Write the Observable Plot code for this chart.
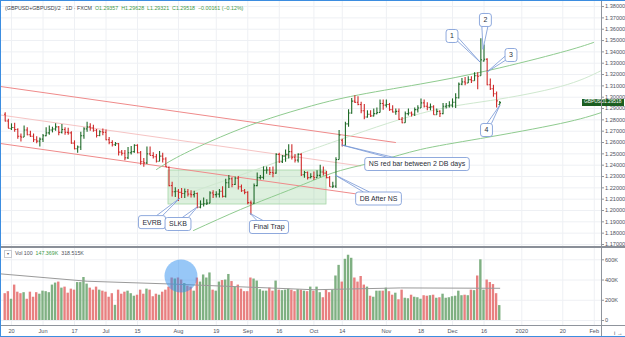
<!DOCTYPE html>
<html><head><meta charset="utf-8">
<script src="https://cdn.jsdelivr.net/npm/d3@7"></script>
<script src="https://cdn.jsdelivr.net/npm/@observablehq/plot@0.6"></script>
<style>
html,body{margin:0;padding:0;background:#fff;}
#wrap{position:relative;width:625px;height:337px;overflow:hidden;font-family:"Liberation Sans",Arial,sans-serif;}
#wrap svg{position:absolute;left:0;overflow:visible;}
.abs{position:absolute;white-space:nowrap;}
</style></head><body>
<div id="wrap"></div>
<script>
// ---------------- data ----------------
const startDate = "2019-05-16";
const opens = [1.2850,1.2790,1.2722,1.2732,1.2715,1.2655,1.2648,1.2710,1.2668,1.2655,1.2625,1.2612,
1.2630,1.2660,1.2685,1.2710,1.2720,1.2738,1.2690,1.2715,1.2690,1.2685,1.2595,1.2545,1.2560,1.2660,1.2720,1.2738,1.2728,1.2708,1.2662,1.2695,
1.2690,1.2625,1.2600,1.2580,1.2590,1.2515,1.2505,1.2465,1.2510,1.2520,1.2575,1.2510,1.2430,1.2420,1.2500,1.2485,1.2475,1.2435,1.2480,1.2455,1.2380,1.2220,1.2165,
1.2170,1.2160,1.2150,1.2165,1.2145,1.2140,1.2150,1.2030,1.2055,1.2060,1.2065,1.2155,1.2140,1.2145,1.2170,1.2125,1.2245,1.2280,1.2230,1.2285,1.2210,1.2175,
1.2160,1.2070,1.2065,1.2220,1.2290,1.2292,1.2355,1.2357,1.2335,1.2330,1.2495,1.2430,1.2480,1.2495,1.2520,1.2470,1.2445,1.2495,1.2315,1.2335,1.2290,
1.2300,1.2290,1.2310,1.2340,1.2330,1.2290,1.2210,1.2215,1.2450,1.2620,1.2575,1.2765,1.2860,1.2965,1.2955,1.2935,1.2880,1.2825,1.2850,1.2835,1.2855,1.2865,1.2945,
1.2930,1.2935,1.2890,1.2870,1.2875,1.2805,1.2775,1.2855,1.2860,1.2850,1.2890,1.2905,1.2950,1.2920,1.2910,1.2915,1.2845,1.2875,1.2855,1.2920,1.2925,
1.2930,1.2955,1.2995,1.3115,1.3135,1.3125,1.3155,1.3145,1.3190,1.3190,1.3320,1.3335,1.3110,1.3075,1.3030,1.29357];
const highs = [1.2862,1.2805,1.2765,1.2770,1.2722,1.2676,1.2745,1.2730,1.2700,1.2675,1.2650,1.2640,
1.2670,1.2730,1.2745,1.2735,1.2765,1.2742,1.2760,1.2730,1.2725,1.2695,1.2615,1.2570,1.2690,1.2730,1.2780,1.2765,1.2752,1.2715,1.2705,1.2720,
1.2710,1.2645,1.2615,1.2600,1.2592,1.2530,1.2530,1.2555,1.2565,1.2580,1.2580,1.2520,1.2460,1.2560,1.2560,1.2510,1.2495,1.2520,1.2505,1.2465,1.2385,1.2250,1.2200,
1.2185,1.2195,1.2190,1.2185,1.2175,1.2170,1.2155,1.2085,1.2110,1.2095,1.2165,1.2175,1.2165,1.2185,1.2210,1.2275,1.2310,1.2290,1.2295,1.2300,1.2225,1.2185,
1.2165,1.2085,1.2235,1.2330,1.2310,1.2385,1.2385,1.2380,1.2385,1.2500,1.2505,1.2485,1.2535,1.2580,1.2580,1.2495,1.2500,1.2500,1.2345,1.2340,1.2325,
1.2340,1.2350,1.2400,1.2385,1.2345,1.2300,1.2250,1.2465,1.2707,1.2630,1.2780,1.2890,1.2988,1.3013,1.3005,1.2955,1.2935,1.2880,1.2880,1.2895,1.2905,1.2975,1.2975,
1.2975,1.2945,1.2925,1.2895,1.2895,1.2820,1.2870,1.2895,1.2870,1.2905,1.2925,1.2985,1.2975,1.2950,1.2940,1.2925,1.2895,1.2880,1.2945,1.2945,1.2960,
1.2985,1.3030,1.3125,1.3165,1.3175,1.3180,1.3180,1.3215,1.3215,1.3515,1.3460,1.3340,1.3160,1.3105,1.3045,1.29628];
const lows = [1.2782,1.2722,1.2706,1.2690,1.2630,1.2605,1.2645,1.2660,1.2645,1.2600,1.2590,1.2560,
1.2600,1.2650,1.2665,1.2685,1.2700,1.2660,1.2675,1.2665,1.2665,1.2585,1.2535,1.2505,1.2530,1.2630,1.2690,1.2700,1.2690,1.2640,1.2650,1.2660,
1.2615,1.2580,1.2560,1.2565,1.2480,1.2480,1.2440,1.2450,1.2490,1.2505,1.2500,1.2400,1.2382,1.2405,1.2480,1.2455,1.2420,1.2430,1.2420,1.2380,1.2210,1.2120,1.2115,
1.2080,1.2105,1.2105,1.2120,1.2110,1.2110,1.2015,1.2015,1.2030,1.2045,1.2060,1.2105,1.2110,1.2110,1.2110,1.2110,1.2195,1.2200,1.2220,1.2180,1.2160,1.2140,
1.2050,1.1958,1.2055,1.2210,1.2270,1.2270,1.2320,1.2310,1.2290,1.2320,1.2415,1.2415,1.2425,1.2455,1.2445,1.2420,1.2420,1.2300,1.2285,1.2270,1.2280,
1.2265,1.2285,1.2290,1.2305,1.2280,1.2205,1.2195,1.2195,1.2445,1.2560,1.2565,1.2735,1.2850,1.2945,1.2925,1.2855,1.2800,1.2815,1.2820,1.2825,1.2845,1.2860,1.2885,
1.2905,1.2875,1.2860,1.2840,1.2795,1.2765,1.2770,1.2835,1.2825,1.2830,1.2860,1.2900,1.2905,1.2880,1.2880,1.2840,1.2840,1.2820,1.2845,1.2895,1.2905,
1.2905,1.2900,1.2985,1.3100,1.3100,1.3120,1.3120,1.3140,1.3065,1.3185,1.3310,1.3100,1.3060,1.3000,1.2905,1.29321];
const closes = [1.2790,1.2725,1.2732,1.2715,1.2655,1.2648,1.2710,1.2668,1.2655,1.2625,1.2612,1.2630,
1.2660,1.2685,1.2710,1.2720,1.2738,1.2690,1.2715,1.2690,1.2685,1.2595,1.2545,1.2560,1.2660,1.2720,1.2738,1.2728,1.2708,1.2662,1.2695,1.2690,
1.2625,1.2600,1.2580,1.2590,1.2515,1.2505,1.2465,1.2510,1.2520,1.2575,1.2510,1.2430,1.2420,1.2500,1.2485,1.2475,1.2435,1.2480,1.2455,1.2385,1.2220,1.2165,1.2170,
1.2160,1.2150,1.2165,1.2145,1.2140,1.2150,1.2030,1.2055,1.2060,1.2065,1.2155,1.2140,1.2145,1.2170,1.2125,1.2245,1.2280,1.2230,1.2285,1.2210,1.2175,1.2160,
1.2070,1.2065,1.2220,1.2290,1.2292,1.2355,1.2357,1.2335,1.2330,1.2495,1.2430,1.2480,1.2495,1.2520,1.2470,1.2445,1.2495,1.2315,1.2335,1.2290,1.2300,
1.2290,1.2310,1.2340,1.2330,1.2290,1.2210,1.2215,1.2450,1.2665,1.2575,1.2765,1.2860,1.2965,1.2955,1.2935,1.2880,1.2825,1.2850,1.2835,1.2855,1.2865,1.2945,1.2930,
1.2935,1.2890,1.2870,1.2875,1.2805,1.2775,1.2855,1.2860,1.2850,1.2890,1.2905,1.2950,1.2920,1.2910,1.2915,1.2845,1.2875,1.2855,1.2920,1.2925,1.2930,
1.2955,1.2995,1.3115,1.3135,1.3125,1.3155,1.3145,1.3190,1.3185,1.3330,1.3335,1.3110,1.3075,1.3030,1.29679,1.29518];
const volumes = [265,285,210,350,280,265,275,210,280,230,275,260,
290,285,275,350,370,380,320,330,270,310,300,375,375,425,360,320,300,330,300,290,
280,230,265,150,300,260,280,290,265,240,250,300,260,310,300,235,260,250,280,300,330,420,410,
420,400,365,340,330,290,420,380,450,420,470,300,290,380,395,400,455,385,330,350,310,285,
285,420,410,390,305,290,290,320,290,390,300,295,300,310,300,285,305,300,290,285,330,
290,330,275,225,300,275,300,440,545,380,605,645,615,420,380,435,350,330,240,230,290,290,290,
320,285,250,270,205,300,220,215,250,230,225,210,245,240,245,250,220,225,260,220,225,
235,240,290,245,250,245,300,295,440,600,300,400,375,355,265,147.369];
// volume moving-average readings (bar index, thousands)
const maIndex = [-1.5, 26, 51.4, 98, 125.5, 157];
const maValues = [461, 388, 362, 304, 322, 318.515];
// x-axis ticks
const tickDates = ["2019-05-20","2019-06-03","2019-06-17","2019-07-01","2019-07-15","2019-08-01","2019-08-19","2019-09-02","2019-09-16","2019-10-01","2019-10-14","2019-11-01","2019-11-18","2019-12-02","2019-12-16","2020-01-01","2020-01-20","2020-02-03"];
const tickLabels = ["20","Jun","17","Jul","15","Aug","19","Sep","16","Oct","14","Nov","18","Dec","16","2020","20","Feb"];
const priceTicks = d3.range(117, 139).map(v => v / 100);
const volTicks = [0, 200, 400, 600];
// drawings (bar index, price)
const redUpper = [{i:-1.492,p:1.30944},{i:123.9,p:1.26002}];
const redMid   = [{i:-1.492,p:1.28429},{i:112.8,p:1.23928}];
const redLower = [{i:-1.492,p:1.25913},{i:111.2,p:1.21474}];
const greenUpper = [{i:48.03,p:1.23619},{i:55.65,p:1.24854},{i:68.35,p:1.26487},{i:81.05,p:1.27855},{i:93.75,p:1.28959},{i:109.62,p:1.30062},{i:131.84,p:1.31165},{i:154.06,p:1.32401},{i:176.29,p:1.33945},{i:186.76,p:1.34828}];
const greenMid = [{i:58.83,p:1.21589},{i:78.83,p:1.23531},{i:93.75,p:1.25031},{i:105.49,p:1.26178},{i:131.84,p:1.28561},{i:154.06,p:1.29709},{i:176.29,p:1.30944},{i:189.3,p:1.32357}];
const greenLower = [{i:59.78,p:1.18235},{i:74.70,p:1.20088},{i:87.40,p:1.21500},{i:96.92,p:1.22560},{i:106.44,p:1.23530},{i:119.14,p:1.24413},{i:131.84,p:1.25384},{i:150.89,p:1.26355},{i:176.29,p:1.27679},{i:189.3,p:1.28650}];
const zone = [{i1:51.84,i2:102.0,p1:1.2053,p2:1.2353}];
const callouts = [
  {text:"EVRB", i:46.76, p:1.18932, ti:55.65, tp:1.21059},
  {text:"SLKB", i:55.02, p:1.18764, ti:61.2, tp:1.20291},
  {text:"Final Trap", i:83.9, p:1.18499, ti:77.87, tp:1.19709},
  {text:"DB After NS", i:118.67, p:1.21015, ti:104.86, tp:1.23089},
  {text:"NS red bar between 2 DB days", i:130.89, p:1.2406, ti:106.98, tp:1.25737},
  {text:"1", i:142.0, p:1.35357, ti:150.89, tp:1.33063},
  {text:"2", i:152.6, p:1.3677, ti:151.84, tp:1.34184},
  {text:"3", i:160.73, p:1.3368, ti:153.1, tp:1.3218},
  {text:"4", i:152.95, p:1.2706, ti:157.24, tp:1.29267}
];
const highlight = [{i:55.8, v:440}];

// ---------------- build ----------------
const UP = "#1f6a28", DN = "#cf2a2a", VUP = "#7fb082", VDN = "#e88080";
const GRID = "#eef0f4", AX = "#8f949c", TXT = "#50535e";
const bars = opens.map((o,k)=>({i:k, open:o, high:highs[k], low:lows[k], close:closes[k], vol:volumes[k], up: closes[k] >= o}));
function dayIndex(s){
  const a = new Date(startDate+"T00:00:00Z"), b = new Date(s+"T00:00:00Z");
  let n = 0;
  for (let d = new Date(a); d < b; d.setUTCDate(d.getUTCDate()+1)) { const w = d.getUTCDay(); if (w !== 0 && w !== 6) n++; }
  return n;
}
const tickIdx = tickDates.map(dayIndex);
const labelMap = new Map(tickIdx.map((t,k)=>[t, tickLabels[k]]));
const xScale = {type:"linear", domain:[-1.492, 189.3], range:[0, 601]};
const wrap = document.getElementById("wrap");

const pricePlot = Plot.plot({
  width: 625, height: 247, marginLeft: 0, marginRight: 24, marginTop: 0, marginBottom: 0,
  style: {background: "transparent", fontFamily: "Liberation Sans, Arial, sans-serif"},
  x: {...xScale, axis: null},
  y: {type: "linear", domain: [1.17, 1.38], range: [244.0, 6.06], axis: null},
  marks: [
    Plot.ruleY(priceTicks, {stroke: GRID, strokeWidth: 1}),
    Plot.ruleX(tickIdx, {stroke: GRID, strokeWidth: 1}),
    Plot.rect(zone, {x1:"i1", x2:"i2", y1:"p1", y2:"p2", fill:"#66bb6a", fillOpacity:0.22, stroke:"#a5d6a7", strokeWidth:0.8}),
    Plot.line(redMid, {x:"i", y:"p", stroke:"#f6c4c4", strokeWidth:1}),
    Plot.line(redUpper, {x:"i", y:"p", stroke:"#ef8a8a", strokeWidth:1}),
    Plot.line(redLower, {x:"i", y:"p", stroke:"#ef8a8a", strokeWidth:1}),
    Plot.line(greenMid, {x:"i", y:"p", stroke:"#cfe8cf", strokeWidth:1, curve:"natural"}),
    Plot.line(greenUpper, {x:"i", y:"p", stroke:"#8fcb8f", strokeWidth:1, curve:"natural"}),
    Plot.line(greenLower, {x:"i", y:"p", stroke:"#8fcb8f", strokeWidth:1, curve:"natural"}),
    Plot.ruleX(bars, {x:"i", y1:"low", y2:"high", stroke: d => d.up ? UP : DN, strokeWidth: 1.1}),
    Plot.link(bars, {x1: d => d.i - 0.38, x2: "i", y1: "open", y2: "open", stroke: d => d.up ? UP : DN, strokeWidth: 1.1}),
    Plot.link(bars, {x1: "i", x2: d => d.i + 0.38, y1: "close", y2: "close", stroke: d => d.up ? UP : DN, strokeWidth: 1.1}),
    Plot.axisY(priceTicks, {anchor: "right", tickSize: 2, tickPadding: 1.5, tickFormat: d => d.toFixed(5), fontSize: 5.6, color: TXT, stroke: AX})
  ]
});
pricePlot.style.top = "0px";
wrap.appendChild(pricePlot);

// callouts drawn with the plot's own scales
const sx = pricePlot.scale("x"), sy = pricePlot.scale("y");
const svgP = d3.select(pricePlot);
const gC = svgP.append("g").attr("font-family", "Liberation Sans, Arial, sans-serif").attr("font-size", 7);
callouts.forEach(c => {
  const cx = sx.apply(c.i), cy = sy.apply(c.p), tx = sx.apply(c.ti), ty = sy.apply(c.tp);
  const t = gC.append("text").text(c.text).attr("x", cx).attr("y", cy).attr("dy", "0.35em").attr("text-anchor", "middle").attr("fill", "#2a2e39");
  const w = t.node().getComputedTextLength() + 8, h = 13;
  const hw = w/2, hh = h/2;
  const dx = tx - cx, dy = ty - cy;
  const s = Math.min(Math.abs(dx) > 0 ? hw/Math.abs(dx) : 1e9, Math.abs(dy) > 0 ? hh/Math.abs(dy) : 1e9);
  const ex = cx + dx*s, ey = cy + dy*s;
  let b1, b2;
  if (Math.abs(ey - cy) >= hh - 0.01) { // top/bottom edge
    const xa = Math.max(cx - hw + 2, Math.min(cx + hw - 2, ex));
    b1 = [Math.max(cx-hw+1, xa-3), ey]; b2 = [Math.min(cx+hw-1, xa+3), ey];
  } else {
    const ya = Math.max(cy - hh + 2, Math.min(cy + hh - 2, ey));
    b1 = [ex, Math.max(cy-hh+1, ya-3)]; b2 = [ex, Math.min(cy+hh-1, ya+3)];
  }
  gC.insert("path", "text").attr("d", `M${b1[0]},${b1[1]}L${tx},${ty}L${b2[0]},${b2[1]}`).attr("fill", "#fff").attr("stroke", "#7494d4").attr("stroke-width", 0.8);
  gC.insert("rect", "text").attr("x", cx-hw).attr("y", cy-hh).attr("width", w).attr("height", h).attr("rx", 2.5).attr("fill", "#fff").attr("stroke", "#7494d4").attr("stroke-width", 0.8);
  // re-cover the base of the pointer inside the box
  t.raise();
});

// last price label
const lastBar = bars[bars.length-1];
const ly = sy.apply(lastBar.close);
const lbl = document.createElement("div");
lbl.className = "abs";
lbl.style.cssText = `left:582px;top:${ly-3.4}px;width:42px;height:6.8px;background:#1b5e20;color:#fff;font-size:4.8px;line-height:6.8px;`;
lbl.innerHTML = `<span style="position:absolute;left:2px">GBPUSD</span><span style="position:absolute;left:22px">${lastBar.close.toFixed(5)}</span>`;
wrap.appendChild(lbl);

// volume pane
const volPlot = Plot.plot({
  width: 625, height: 90, marginLeft: 0, marginRight: 24, marginTop: 0, marginBottom: 12,
  style: {background: "transparent", fontFamily: "Liberation Sans, Arial, sans-serif"},
  x: {...xScale, axis: null},
  y: {type: "linear", domain: [0, 600], range: [73, 12.3], axis: null},
  marks: [
    Plot.ruleY(volTicks, {stroke: GRID, strokeWidth: 1}),
    Plot.ruleX(tickIdx, {stroke: GRID, strokeWidth: 1}),
    Plot.rect(bars, {x1: d => d.i - 0.38, x2: d => d.i + 0.38, y1: 0, y2: "vol", fill: d => d.up ? VUP : VDN}),
    Plot.line(maIndex.map((m,k)=>({i:m, v:maValues[k]})), {x:"i", y:"v", stroke:"#9a9a9a", strokeWidth:1}),
    Plot.dot(highlight, {x:"i", y:"v", r:16.5, fill:"#2f8ff0", fillOpacity:0.5, stroke:"none"}),
    Plot.axisY(volTicks, {anchor:"right", tickSize:2, tickPadding:1.5, tickFormat: d => d === 0 ? "0" : d + "K", fontSize:5.6, color: TXT, stroke: AX}),
    Plot.axisX(tickIdx, {anchor:"bottom", tickSize:0, tickPadding:3.5, tickFormat: d => labelMap.get(d), fontSize:5.6, color: TXT})
  ]
});
volPlot.style.top = "247px";
wrap.appendChild(volPlot);

// frame lines (pane separators / axis lines)
function hline(top, h, color){ const d=document.createElement("div"); d.className="abs"; d.style.cssText=`left:0;top:${top}px;width:625px;height:${h}px;background:${color}`; wrap.appendChild(d); }
function vline(left, top, h, color){ const d=document.createElement("div"); d.className="abs"; d.style.cssText=`left:${left}px;top:${top}px;width:1px;height:${h}px;background:${color}`; wrap.appendChild(d); }
vline(601, 0, 337, AX);
hline(246.3, 1.4, "#8a8f98");
hline(325, 1, AX);

// title
const title = document.createElement("div");
title.className = "abs";
title.style.cssText = "left:5px;top:5px;font-size:5.3px;color:#3b3f4a;";
const f = v => v.toFixed(5);
const prevClose = closes[closes.length-2];
const chg = lastBar.close - prevClose;
title.innerHTML = `(GBPUSD+GBPUSD)/2 · 1D · FXCM &nbsp;<span style="color:#3f9a48">O${f(lastBar.open)} &nbsp;H${f(lastBar.high)} &nbsp;L${f(lastBar.low)} &nbsp;C${f(lastBar.close)} &nbsp;${chg<0?"−":"+"}${Math.abs(chg).toFixed(5)} (${chg<0?"−":"+"}${Math.abs(chg/prevClose*100).toFixed(2)}%)</span>`;
wrap.appendChild(title);

// volume legend
const leg = document.createElement("div");
leg.className = "abs";
leg.style.cssText = "left:4px;top:250px;font-size:5.3px;color:#50535e;line-height:7px;";
leg.innerHTML = `<span style="display:inline-block;width:6px;height:6px;border:0.5px solid #c8cad0;text-align:center;line-height:6px;font-size:4px;vertical-align:middle;">▾</span>&nbsp; Vol 100 &nbsp;<span style="color:#3f9a48">${volumes[volumes.length-1].toFixed(3)}K</span> &nbsp;${maValues[maValues.length-1].toFixed(3)}K`;
wrap.appendChild(leg);

// outer frame
const fr = document.createElement("div");
fr.className = "abs";
fr.style.cssText = "left:0;top:0;width:625px;height:337px;box-sizing:border-box;border:1px solid #3c8de0;border-right:none;pointer-events:none;";
wrap.appendChild(fr);
</script>
</body></html>
